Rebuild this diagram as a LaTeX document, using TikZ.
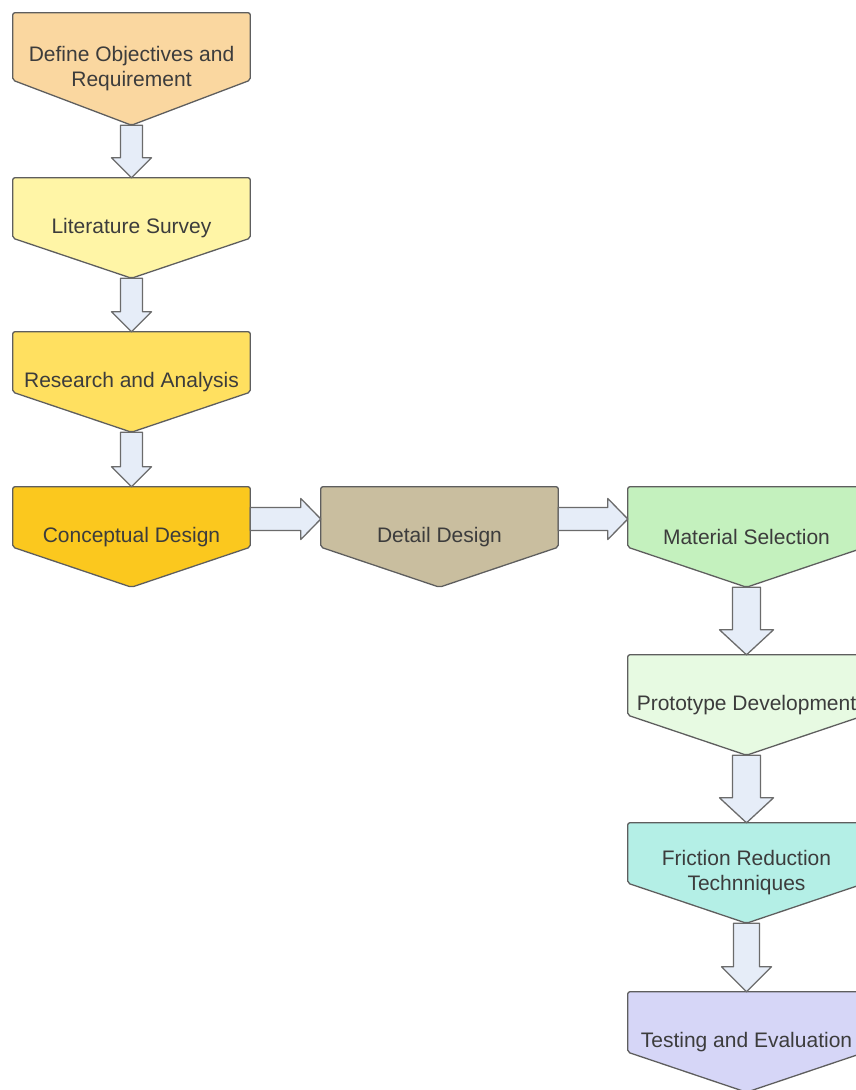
\documentclass[tikz,border=0pt]{standalone}
\usepackage{fontspec}
\setmainfont{Liberation Sans}
\usetikzlibrary{calc,backgrounds}

\definecolor{cdef}{HTML}{FAD7A0}
\definecolor{clit}{HTML}{FFF5A6}
\definecolor{cres}{HTML}{FFE060}
\definecolor{ccon}{HTML}{FBC81E}
\definecolor{cdet}{HTML}{C9BE9F}
\definecolor{cmat}{HTML}{C4F1BE}
\definecolor{cpro}{HTML}{E7FAE2}
\definecolor{cfri}{HTML}{B4EFE6}
\definecolor{ctes}{HTML}{D6D6F7}
\definecolor{steptext}{HTML}{3C3C3C}
\definecolor{stepline}{HTML}{5E5E5E}
\definecolor{arrowfill}{HTML}{E6EDF8}
\definecolor{arrowline}{HTML}{6B6B6B}

% block arrow going down: from node, to node, half shaft, half head, head length
\newcommand{\blockdown}[5]{%
  \draw[blockarrow] let \p1=(#1.south), \p2=(#2.north) in
    (\x1-#3pt,\y1) -- (\x1-#3pt,\y2+#5pt) -- (\x1-#4pt,\y2+#5pt) -- (\x1,\y2)
    -- (\x1+#4pt,\y2+#5pt) -- (\x1+#3pt,\y2+#5pt) -- (\x1+#3pt,\y1) -- cycle;}
% block arrow going right
\newcommand{\blockright}[5]{%
  \draw[blockarrow] let \p1=($(#1.east)+(0,-18)$), \p2=(#2.west) in
    (\x1,\y1-#3pt) -- (\x2-#5pt,\y1-#3pt) -- (\x2-#5pt,\y1-#4pt) -- (\x2,\y1)
    -- (\x2-#5pt,\y1+#4pt) -- (\x2-#5pt,\y1+#3pt) -- (\x1,\y1+#3pt) -- cycle;}

\begin{document}
\begin{tikzpicture}[x=1pt,y=-1pt,
    stepbox/.style={minimum width=237pt,minimum height=100pt,inner sep=0pt,
      align=center,text=steptext,font=\fontsize{21}{25}\selectfont},
    stepedge/.style={draw=stepline,line width=1.3pt,rounded corners=2pt},
    blockarrow/.style={draw=arrowline,fill=arrowfill,line width=1.3pt,line join=round}]
    \useasboundingbox (0,0) rectangle (855,1090);

    \node[stepbox,minimum height=112pt] (def) at (131.5,69)  {Define Objectives and\\Requirement};
    \node[stepbox] (lit) at (131.5,228)  {Literature Survey};
    \node[stepbox] (res) at (131.5,382)  {Research and Analysis};
    \node[stepbox] (con) at (131.5,537)  {Conceptual Design};
    \node[stepbox] (det) at (439.5,537)  {Detail Design};
    \node[stepbox] (mat) at (746.5,537)  {Material Selection};
    \node[stepbox] (pro) at (746.5,705)  {Prototype Development};
    \node[stepbox] (fri) at (746.5,873)  {Friction Reduction\\Technniques};
    \node[stepbox] (tes) at (746.5,1042) {Testing and Evaluation};

    \begin{scope}[on background layer]
        \foreach \n/\c/\d in {def/cdef/45,lit/clit/40,res/cres/40,con/ccon/40,det/cdet/40,
                              mat/cmat/40,pro/cpro/40,fri/cfri/40,tes/ctes/40}
            \draw[stepedge,fill=\c] (\n.north west) -- (\n.north east)
                -- ($(\n.south east)+(0,-\d)$) -- (\n.south)
                -- ($(\n.south west)+(0,-\d)$) -- cycle;
    \end{scope}

    \blockdown{def}{lit}{11}{20}{20}
    \blockdown{lit}{res}{11}{20}{20}
    \blockdown{res}{con}{11}{20}{20}
    \blockright{con}{det}{11.5}{20.5}{20}
    \blockright{det}{mat}{11.5}{20.5}{20}
    \blockdown{mat}{pro}{14}{27}{25}
    \blockdown{pro}{fri}{14}{27}{25}
    \blockdown{fri}{tes}{13}{25}{25}
\end{tikzpicture}
\end{document}
